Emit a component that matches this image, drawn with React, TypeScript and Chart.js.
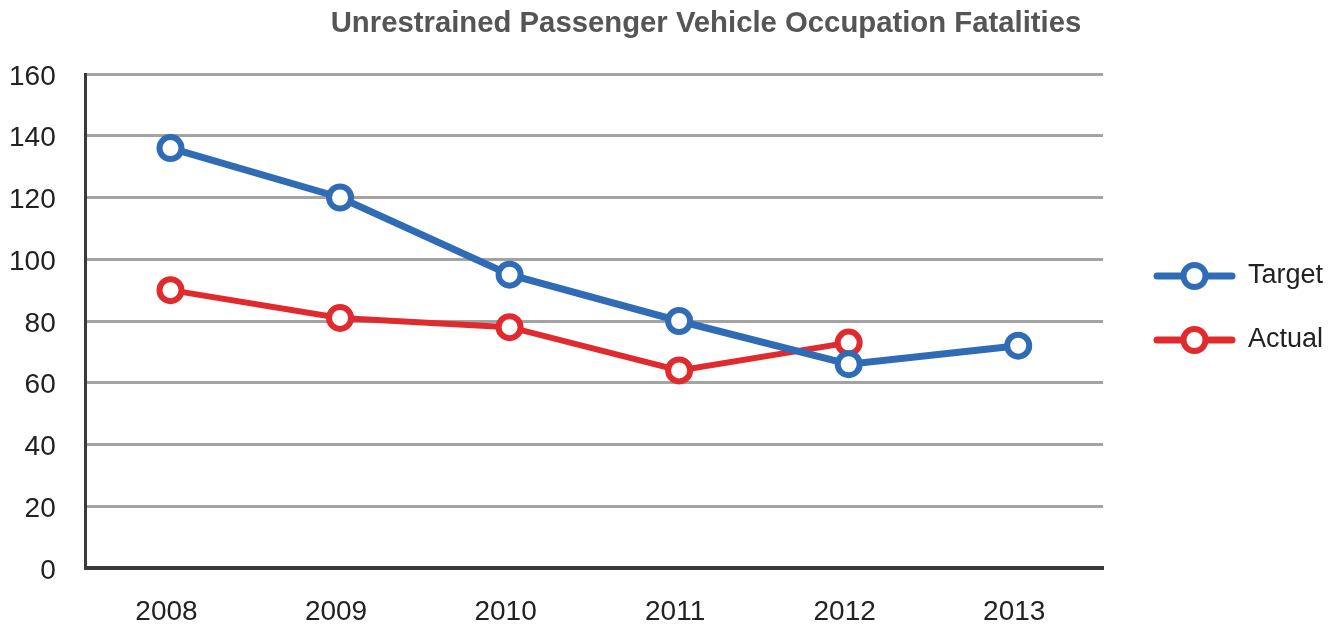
import React, { useEffect, useRef } from "react";
import { Chart, registerables } from "chart.js";

Chart.register(...registerables);

const years = ["2008", "2009", "2010", "2011", "2012", "2013"];
const targetValues = [136, 120, 95, 80, 66, 72];
const actualValues = [90, 81, 78, 64, 73, null];
const seriesLabels = ["Target", "Actual"];
const seriesColors = ["#2f6cb5", "#e12a2e"];
const titleText = "Unrestrained Passenger Vehicle Occupation Fatalities";
const yMin = 0;
const yMax = 160;
const yStep = 20;

const FONT = '"Liberation Sans", Arial, Helvetica, sans-serif';

const titlePlugin = {
  id: "customTitle",
  afterDraw(chart: any) {
    const { ctx } = chart;
    ctx.save();
    ctx.font = `bold 29.3px ${FONT}`;
    ctx.fillStyle = "#555555";
    ctx.textAlign = "center";
    ctx.textBaseline = "alphabetic";
    ctx.fillText(titleText, 706, 32);
    ctx.restore();
  },
};

const legendPlugin = {
  id: "customLegend",
  afterDraw(chart: any) {
    const { ctx, chartArea } = chart;
    ctx.save();
    chart.data.datasets.forEach((ds: any, i: number) => {
      const y = 276 + i * 64;
      const x0 = chartArea.right + 54;
      ctx.strokeStyle = ds.borderColor;
      ctx.lineWidth = 7;
      ctx.lineCap = "round";
      ctx.beginPath();
      ctx.moveTo(x0, y);
      ctx.lineTo(x0 + 75, y);
      ctx.stroke();
      ctx.beginPath();
      ctx.arc(x0 + 37.5, y, 11, 0, Math.PI * 2);
      ctx.fillStyle = "#ffffff";
      ctx.fill();
      ctx.lineWidth = 6;
      ctx.stroke();
      ctx.fillStyle = "#222222";
      ctx.font = `27px ${FONT}`;
      ctx.textAlign = "left";
      ctx.textBaseline = "middle";
      ctx.fillText(ds.label, x0 + 91, y);
    });
    ctx.restore();
  },
};

export default function App() {
  const canvasRef = useRef<HTMLCanvasElement | null>(null);

  useEffect(() => {
    if (!canvasRef.current) return;
    const chart = new Chart(canvasRef.current, {
      type: "line",
      data: {
        labels: years,
        datasets: [
          {
            label: seriesLabels[0],
            data: targetValues,
            borderColor: seriesColors[0],
            backgroundColor: "#ffffff",
            borderWidth: 7,
            pointRadius: 11,
            pointHoverRadius: 11,
            pointBorderWidth: 6,
            pointBackgroundColor: "#ffffff",
            pointBorderColor: seriesColors[0],
            tension: 0,
            clip: false,
          },
          {
            label: seriesLabels[1],
            data: actualValues,
            borderColor: seriesColors[1],
            backgroundColor: "#ffffff",
            borderWidth: 6,
            pointRadius: 11,
            pointHoverRadius: 11,
            pointBorderWidth: 6,
            pointBackgroundColor: "#ffffff",
            pointBorderColor: seriesColors[1],
            tension: 0,
            clip: false,
          },
        ],
      },
      options: {
        animation: false,
        responsive: false,
        maintainAspectRatio: false,
        layout: { padding: { left: 0, right: 235, top: 74, bottom: 0 } },
        plugins: {
          legend: { display: false },
          title: { display: false },
          tooltip: { enabled: false },
        },
        scales: {
          x: {
            type: "category",
            offset: true,
            grid: {
              display: true,
              drawOnChartArea: false,
              drawTicks: true,
              tickLength: 30,
              tickColor: "transparent",
            },
            border: { display: true, color: "#3a3a3a", width: 4 },
            ticks: {
              color: "#222222",
              padding: 0,
              labelOffset: -4,
              font: { family: FONT, size: 28, lineHeight: 1 },
            },
          },
          y: {
            min: yMin,
            max: yMax,
            grid: {
              color: (c: any) => (c.tick && c.tick.value === 0 ? "transparent" : "#a3a3a3"),
              lineWidth: 3,
              drawTicks: true,
              tickLength: 21,
              tickColor: "transparent",
            },
            border: { display: true, color: "#3a3a3a", width: 3 },
            ticks: {
              stepSize: yStep,
              color: "#222222",
              padding: 9,
              labelOffset: 3,
              font: { family: FONT, size: 28 },
            },
          },
        },
      },
      plugins: [titlePlugin, legendPlugin],
    });
    return () => chart.destroy();
  }, []);

  return (
    <div style={{ position: "fixed", left: 0, top: 0, width: 1338, height: 626, background: "#ffffff" }}>
      <canvas ref={canvasRef} width={1338} height={626} style={{ width: 1338, height: 626 }} />
    </div>
  );
}
